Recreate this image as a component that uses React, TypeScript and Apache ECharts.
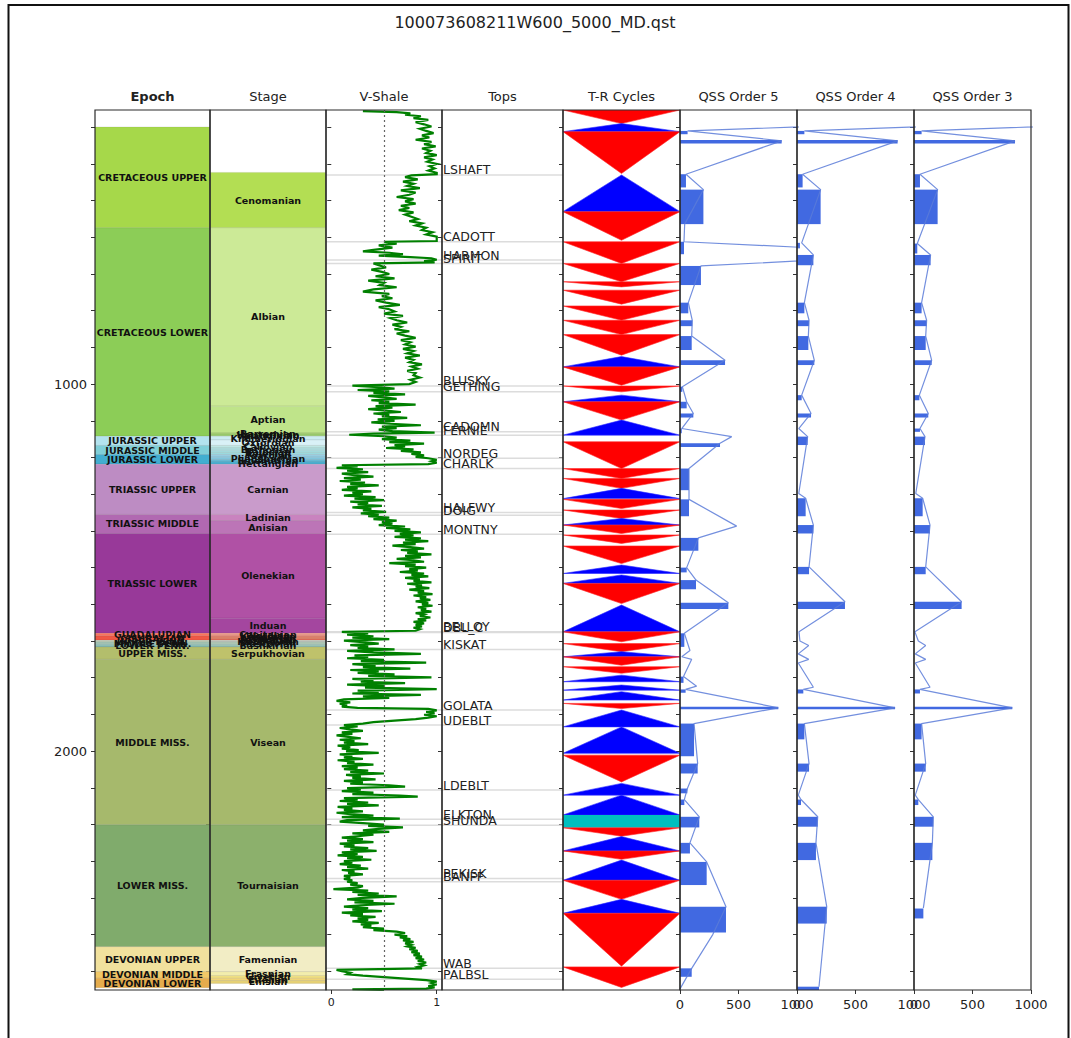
import { useEffect, useRef } from 'react';
import * as echarts from 'echarts';

// ---------------- DATA ----------------
const TITLE = '100073608211W600_5000_MD.qst';
const DEPTH_MIN = 253;
const DEPTH_MAX = 2651;
const DEPTH_LABELS = [1000, 2000];
const DEPTH_TICKS = [300, 400, 500, 600, 700, 800, 900, 1000, 1100, 1200, 1300, 1400, 1500, 1600, 1700, 1800, 1900, 2000, 2100, 2200, 2300, 2400, 2500, 2600];
const PANEL_TITLES = ['Epoch', 'Stage', 'V-Shale', 'Tops', 'T-R Cycles', 'QSS Order 5', 'QSS Order 4', 'QSS Order 3'];
const VSH_TICKS = [0, 1];
const QSS_TICKS = [0, 500, 1000];

const epochNames = ['CRETACEOUS UPPER', 'CRETACEOUS LOWER', 'JURASSIC UPPER', 'JURASSIC MIDDLE', 'JURASSIC LOWER', 'TRIASSIC UPPER', 'TRIASSIC MIDDLE', 'TRIASSIC LOWER', 'GUADALUPIAN', 'CISURALIAN', 'UPPER PENN.', 'MIDDLE PENN.', 'LOWER PENN.', 'UPPER MISS.', 'MIDDLE MISS.', 'LOWER MISS.', 'DEVONIAN UPPER', 'DEVONIAN MIDDLE', 'DEVONIAN LOWER'];
const epochTops = [299, 574, 1142, 1167, 1192, 1218, 1355, 1407, 1679, 1686, 1698, 1703, 1709, 1716, 1750, 2201, 2533, 2601, 2619];
const epochBases = [574, 1142, 1167, 1192, 1218, 1355, 1407, 1679, 1686, 1698, 1703, 1709, 1716, 1750, 2201, 2533, 2601, 2619, 2645];
const epochColors = ['#A6D84A', '#8CCD57', '#B3E3EE', '#80CFD8', '#42AED0', '#BD8CC3', '#B168B1', '#983999', '#FB745C', '#EF5845', '#BFD0BA', '#A6C7B7', '#8CBEB4', '#B3BE6C', '#A6B96C', '#80AB6C', '#F1E19D', '#F1C868', '#E5AC4D'];

const stageNames = ['Cenomanian', 'Albian', 'Aptian', 'Barremian', 'Hauterivian', 'Valanginian', 'Kimmeridgian', 'Oxfordian', 'Callovian', 'Bathonian', 'Bajocian', 'Aalenian', 'Toarcian', 'Pliensbachian', 'Sinemurian', 'Hettangian', 'Carnian', 'Ladinian', 'Anisian', 'Olenekian', 'Induan', 'Capitanian', 'Wordian', 'Kungurian', 'Artinskian', 'Sakmarian', 'Gzhelian', 'Kasimovian', 'Moscovian', 'Bashkirian', 'Serpukhovian', 'Visean', 'Tournaisian', 'Famennian', 'Frasnian', 'Givetian', 'Eifelian', 'Emsian'];
const stageTops = [423, 574, 1060, 1133, 1136, 1139, 1142, 1152, 1167, 1174, 1180, 1186, 1192, 1199, 1206, 1212, 1218, 1355, 1372, 1407, 1638, 1679, 1683, 1686, 1690, 1694, 1698, 1701, 1703, 1709, 1716, 1750, 2201, 2533, 2601, 2612, 2619, 2625];
const stageBases = [574, 1060, 1133, 1136, 1139, 1142, 1152, 1167, 1174, 1180, 1186, 1192, 1199, 1206, 1212, 1218, 1355, 1372, 1407, 1638, 1679, 1683, 1686, 1690, 1694, 1698, 1701, 1703, 1709, 1716, 1750, 2201, 2533, 2601, 2612, 2619, 2625, 2633];
const stageColors = ['#B3DE53', '#CCEA97', '#BFE48A', '#B3DF7F', '#A6D975', '#99D36A', '#CCECF4', '#D9F1F7', '#BFE7E5', '#B3E2E3', '#A6DDE0', '#9AD9DD', '#99CEE3', '#80C5DD', '#67BCD8', '#4EB3D3', '#C99BCB', '#C983BF', '#BC75B7', '#B051A5', '#A4469F', '#FB9A85', '#FB8D76', '#E38776', '#E6704E', '#E56F5C', '#CCD4C7', '#BFD0C5', '#B3CBB9', '#99C2B5', '#BFC26B', '#A6B96C', '#8CB06C', '#F2EDC5', '#F2EDAD', '#F1E185', '#F1D576', '#E5D075'];

const topNames = ['LSHAFT', 'CADOTT', 'HARMON', 'SPIRIT', 'BLUSKY', 'GETHING', 'CADOMN', 'FERNIE', 'NORDEG', 'CHARLK', 'HALFWY', 'DOIG', 'MONTNY', 'BELLOY', 'DBL_C', 'KISKAT', 'GOLATA', 'UDEBLT', 'LDEBLT', 'ELKTON', 'SHUNDA', 'PEKISK', 'BANFF', 'WAB', 'PALBSL'];
const topDepths = [430, 612, 662, 671, 1005, 1021, 1130, 1139, 1202, 1230, 1350, 1357, 1409, 1675, 1677, 1723, 1888, 1929, 2106, 2186, 2202, 2347, 2356, 2592, 2622];

// T-R cycles: 'T' = transgressive (blue), 'R' = regressive (red), 'C' = cyan marker
const trTops = [253, 290, 312, 430, 530, 612, 671, 721, 744, 787, 826, 865, 925, 953, 1005, 1030, 1048, 1098, 1157, 1230, 1257, 1284, 1314, 1343, 1366, 1384, 1411, 1441, 1493, 1520, 1543, 1602, 1675, 1707, 1729, 1743, 1770, 1793, 1820, 1838, 1870, 1888, 1934, 2011, 2088, 2120, 2174, 2209, 2233, 2272, 2297, 2352, 2404, 2442, 2588];
const trBases = [290, 312, 426, 530, 608, 671, 721, 735, 782, 826, 865, 921, 953, 1003, 1021, 1048, 1098, 1139, 1230, 1257, 1284, 1312, 1339, 1366, 1384, 1407, 1434, 1489, 1516, 1543, 1598, 1675, 1702, 1729, 1743, 1766, 1788, 1811, 1834, 1861, 1884, 1934, 2006, 2084, 2120, 2174, 2209, 2232, 2272, 2295, 2352, 2404, 2442, 2586, 2644];
const trKinds = ['R', 'T', 'R', 'T', 'R', 'R', 'R', 'R', 'R', 'R', 'R', 'R', 'T', 'R', 'R', 'T', 'R', 'T', 'R', 'R', 'R', 'T', 'R', 'R', 'T', 'R', 'R', 'R', 'T', 'T', 'R', 'T', 'R', 'R', 'T', 'R', 'R', 'T', 'T', 'T', 'R', 'T', 'T', 'R', 'T', 'T', 'C', 'R', 'T', 'R', 'T', 'R', 'T', 'R', 'R'];

// V-Shale log: [vshale, depth]
const vshale = [
  [0.30, 256], [0.62, 259], [0.75, 262], [0.70, 266], [0.85, 270], [0.78, 275], [0.92, 280], [0.80, 286], [0.88, 292], [0.95, 298],
  [0.84, 304], [0.90, 310], [0.97, 316], [0.86, 322], [0.93, 328], [0.80, 334], [0.95, 340], [0.88, 346], [0.99, 352], [0.86, 358],
  [0.94, 364], [0.90, 370], [1.0, 376], [0.88, 382], [0.96, 388], [0.91, 394], [1.0, 400], [0.93, 406], [0.98, 412], [0.92, 418],
  [1.0, 424], [1.0, 428], [0.76, 431], [0.70, 436], [0.82, 442], [0.68, 448], [0.78, 454], [0.72, 460], [0.84, 466], [0.66, 472],
  [0.80, 478], [0.74, 484], [0.62, 490], [0.78, 496], [0.70, 502], [0.80, 508], [0.66, 514], [0.74, 520], [0.64, 526], [0.78, 532],
  [0.70, 538], [0.76, 544], [0.82, 550], [0.74, 556], [0.86, 562], [0.80, 568], [0.90, 574], [0.86, 580], [0.96, 586], [0.90, 592],
  [1.0, 598], [1.0, 610], [0.50, 612], [0.62, 617], [0.45, 622], [0.58, 628], [0.40, 634], [0.30, 638], [0.55, 642], [0.68, 646],
  [0.45, 650], [0.75, 654], [0.95, 657], [1.0, 661], [0.88, 665], [0.98, 668], [0.40, 671], [0.45, 676], [0.52, 682], [0.38, 688],
  [0.48, 694], [0.55, 700], [0.42, 706], [0.60, 712], [0.35, 718], [0.50, 724], [0.46, 730], [0.62, 736], [0.40, 742], [0.30, 748],
  [0.55, 754], [0.48, 760], [0.58, 766], [0.42, 772], [0.52, 778], [0.65, 784], [0.45, 790], [0.55, 796], [0.60, 802], [0.50, 808],
  [0.68, 814], [0.56, 820], [0.62, 826], [0.72, 832], [0.58, 838], [0.66, 844], [0.60, 850], [0.74, 856], [0.62, 862], [0.70, 868],
  [0.80, 874], [0.66, 880], [0.75, 886], [0.70, 892], [0.80, 898], [0.68, 904], [0.78, 910], [0.72, 916], [0.84, 922], [0.70, 928],
  [0.78, 934], [0.74, 940], [0.86, 946], [0.76, 952], [0.82, 958], [0.72, 964], [0.80, 970], [0.78, 976], [0.84, 982], [0.75, 988],
  [0.80, 994], [0.74, 1000], [0.20, 1004], [0.45, 1008], [0.60, 1012], [0.25, 1016], [0.55, 1020], [0.40, 1024], [0.70, 1028], [0.35, 1032],
  [0.50, 1036], [0.62, 1040], [0.38, 1044], [0.55, 1048], [0.45, 1052], [0.80, 1056], [0.42, 1060], [0.58, 1064], [0.35, 1068], [0.52, 1072],
  [0.66, 1076], [0.40, 1080], [0.55, 1084], [0.48, 1088], [0.72, 1092], [0.44, 1096], [0.60, 1100], [0.38, 1104], [0.56, 1108], [0.85, 1112],
  [0.48, 1116], [0.62, 1120], [0.45, 1124], [0.58, 1128], [0.98, 1132], [0.40, 1135], [0.17, 1138], [0.50, 1142], [0.62, 1146], [0.48, 1150],
  [0.75, 1154], [0.55, 1158], [0.88, 1162], [0.60, 1166], [0.70, 1170], [0.52, 1174], [0.78, 1178], [0.66, 1182], [0.85, 1186], [0.76, 1190],
  [0.88, 1194], [0.80, 1198], [0.92, 1202], [1.0, 1206], [0.95, 1210], [1.0, 1214], [0.92, 1218], [0.10, 1221], [0.25, 1224], [0.05, 1228],
  [0.30, 1232], [0.15, 1236], [0.35, 1240], [0.10, 1244], [0.22, 1248], [0.40, 1252], [0.12, 1256], [0.28, 1260], [0.08, 1264], [0.32, 1268],
  [0.18, 1272], [0.45, 1276], [0.15, 1280], [0.25, 1284], [0.10, 1288], [0.38, 1292], [0.20, 1296], [0.30, 1300], [0.12, 1304], [0.42, 1308],
  [0.22, 1312], [0.50, 1316], [0.18, 1320], [0.35, 1324], [0.25, 1328], [0.48, 1332], [0.20, 1336], [0.38, 1340], [0.30, 1344], [0.52, 1348],
  [0.28, 1352], [0.45, 1356], [0.35, 1360], [0.55, 1364], [0.40, 1368], [0.62, 1372], [0.48, 1376], [0.58, 1380], [0.45, 1384], [0.70, 1388],
  [0.52, 1392], [0.75, 1396], [0.60, 1400], [0.85, 1404], [0.65, 1408], [0.78, 1412], [0.60, 1416], [0.85, 1420], [0.70, 1424], [0.92, 1428],
  [0.68, 1432], [0.80, 1436], [0.58, 1440], [0.75, 1444], [0.88, 1448], [0.66, 1452], [0.82, 1456], [0.72, 1460], [0.95, 1464], [0.70, 1468],
  [0.85, 1472], [0.62, 1476], [0.78, 1480], [0.88, 1484], [0.55, 1488], [0.80, 1492], [0.70, 1496], [0.90, 1500], [0.74, 1504], [0.82, 1508],
  [0.65, 1512], [0.88, 1516], [0.76, 1520], [0.92, 1524], [0.70, 1528], [0.84, 1532], [0.78, 1536], [0.95, 1540], [0.72, 1544], [0.86, 1548],
  [0.80, 1552], [0.93, 1556], [0.74, 1560], [0.88, 1564], [0.82, 1568], [0.96, 1572], [0.78, 1576], [0.90, 1580], [0.84, 1584], [0.94, 1588],
  [0.80, 1592], [0.92, 1596], [0.86, 1600], [0.96, 1604], [0.82, 1608], [0.90, 1612], [0.85, 1616], [0.95, 1620], [0.80, 1624], [0.88, 1628],
  [0.84, 1632], [0.94, 1636], [0.82, 1640], [0.90, 1644], [0.78, 1648], [0.88, 1652], [0.80, 1656], [0.86, 1660], [0.78, 1664], [0.84, 1668],
  [0.80, 1672], [0.10, 1675], [0.35, 1679], [0.15, 1683], [0.40, 1687], [0.20, 1691], [0.55, 1695], [0.12, 1699], [0.30, 1703], [0.45, 1707],
  [0.18, 1711], [0.35, 1715], [0.25, 1719], [0.60, 1723], [0.15, 1727], [0.40, 1731], [0.85, 1735], [0.22, 1739], [0.35, 1743], [0.15, 1747],
  [0.50, 1751], [0.28, 1755], [0.90, 1759], [0.20, 1763], [0.42, 1767], [0.30, 1771], [0.75, 1775], [0.18, 1779], [0.45, 1783], [0.25, 1787],
  [0.60, 1791], [0.35, 1795], [0.95, 1799], [0.20, 1803], [0.40, 1807], [0.28, 1811], [0.70, 1815], [0.15, 1819], [0.50, 1823], [0.32, 1827],
  [1.0, 1831], [0.25, 1835], [0.45, 1839], [0.20, 1843], [0.85, 1847], [0.30, 1851], [0.55, 1855], [0.12, 1859], [0.05, 1863], [0.18, 1867],
  [0.08, 1871], [0.15, 1875], [0.10, 1879], [0.25, 1882], [0.92, 1885], [1.0, 1889], [0.90, 1893], [0.98, 1897], [0.88, 1901], [1.0, 1905],
  [0.92, 1909], [0.80, 1913], [0.60, 1917], [0.40, 1921], [0.30, 1925], [0.12, 1929], [0.25, 1933], [0.08, 1937], [0.18, 1941], [0.30, 1945],
  [0.10, 1949], [0.20, 1953], [0.05, 1957], [0.16, 1961], [0.28, 1965], [0.08, 1969], [0.22, 1973], [0.12, 1977], [0.35, 1981], [0.06, 1985],
  [0.18, 1989], [0.10, 1993], [0.26, 1997], [0.14, 2001], [0.45, 2005], [0.08, 2009], [0.20, 2013], [0.12, 2017], [0.30, 2021], [0.06, 2025],
  [0.22, 2029], [0.15, 2033], [0.40, 2037], [0.10, 2041], [0.25, 2045], [0.12, 2049], [0.35, 2053], [0.18, 2057], [0.50, 2061], [0.14, 2065],
  [0.28, 2069], [0.20, 2073], [0.42, 2077], [0.12, 2081], [0.30, 2085], [0.18, 2089], [0.55, 2093], [0.70, 2097], [0.15, 2101], [0.28, 2105],
  [0.10, 2109], [0.40, 2113], [0.20, 2117], [0.65, 2121], [0.82, 2124], [0.12, 2128], [0.25, 2132], [0.08, 2136], [0.35, 2140], [0.15, 2144],
  [0.45, 2148], [0.06, 2152], [0.20, 2156], [0.12, 2160], [0.30, 2164], [0.05, 2168], [0.18, 2172], [0.40, 2176], [0.10, 2180], [0.65, 2184],
  [0.15, 2188], [0.08, 2192], [0.30, 2196], [0.50, 2200], [0.35, 2204], [0.68, 2208], [0.45, 2212], [0.30, 2216], [0.55, 2220], [0.20, 2224],
  [0.40, 2228], [0.25, 2232], [0.10, 2236], [0.30, 2240], [0.15, 2244], [0.40, 2248], [0.08, 2252], [0.22, 2256], [0.12, 2260], [0.35, 2264],
  [0.18, 2268], [0.43, 2272], [0.10, 2276], [0.25, 2280], [0.06, 2284], [0.30, 2288], [0.15, 2292], [0.38, 2296], [0.12, 2300], [0.20, 2304],
  [0.08, 2308], [0.28, 2312], [0.15, 2316], [0.35, 2320], [0.10, 2324], [0.22, 2328], [0.16, 2332], [0.30, 2336], [0.12, 2340], [0.18, 2344],
  [0.12, 2348], [0.20, 2352], [0.15, 2356], [0.25, 2360], [0.18, 2364], [0.30, 2368], [0.25, 2372], [0.02, 2376], [0.35, 2380], [0.20, 2384],
  [0.45, 2388], [0.25, 2392], [0.62, 2396], [0.30, 2400], [0.15, 2404], [0.40, 2408], [0.22, 2412], [0.60, 2416], [0.28, 2420], [0.12, 2424],
  [0.35, 2428], [0.20, 2432], [0.48, 2436], [0.10, 2440], [0.30, 2444], [0.18, 2448], [0.42, 2452], [0.25, 2456], [0.35, 2460], [0.20, 2464],
  [0.45, 2468], [0.28, 2472], [0.38, 2476], [0.30, 2480], [0.50, 2484], [0.40, 2488], [0.62, 2492], [0.70, 2496], [0.60, 2500], [0.72, 2504],
  [0.65, 2508], [0.75, 2512], [0.68, 2516], [0.78, 2520], [0.70, 2524], [0.76, 2528], [0.72, 2532], [0.80, 2536], [0.74, 2540], [0.82, 2544],
  [0.76, 2548], [0.84, 2552], [0.78, 2556], [0.86, 2560], [0.80, 2564], [0.88, 2568], [0.82, 2572], [0.90, 2576], [0.84, 2580], [0.88, 2584],
  [0.82, 2588], [0.86, 2592], [0.05, 2596], [0.10, 2600], [0.18, 2604], [0.15, 2608], [0.30, 2612], [0.50, 2616], [0.70, 2620], [0.90, 2624],
  [1.0, 2628], [0.95, 2632], [1.0, 2636], [0.92, 2640], [0.98, 2644], [0.90, 2647], [0.20, 2649], [0.50, 2651],
];

// QSS bars: [top depth, base depth, value]; QSS lines: [value, depth]
const qss5Bars = [[310, 319, 65], [335, 344, 869], [428, 464, 51], [470, 564, 200], [612, 646, 34], [678, 730, 179], [778, 807, 71], [826, 842, 105], [869, 907, 100], [935, 948, 385], [1007, 1021, 20], [1048, 1066, 57], [1080, 1091, 114], [1121, 1134, 15], [1161, 1171, 342], [1230, 1289, 77], [1314, 1360, 77], [1419, 1454, 157], [1500, 1513, 57], [1534, 1559, 137], [1596, 1613, 413], [1679, 1716, 37], [1797, 1814, 30], [1832, 1841, 48], [1879, 1886, 840], [1925, 2014, 120], [2034, 2061, 151], [2102, 2115, 63], [2132, 2147, 37], [2179, 2208, 165], [2250, 2279, 85], [2302, 2365, 228], [2424, 2494, 393], [2592, 2615, 100]];
const qss5Line = [[1800, 290], [65, 310], [869, 337], [51, 428], [200, 470], [40, 564], [34, 612], [2200, 645], [179, 678], [71, 778], [105, 826], [100, 869], [385, 935], [20, 1007], [57, 1048], [114, 1080], [15, 1121], [442, 1143], [342, 1161], [77, 1230], [77, 1314], [484, 1387], [157, 1419], [57, 1500], [137, 1534], [413, 1596], [37, 1679], [85, 1726], [15, 1743], [100, 1750], [30, 1797], [142, 1823], [48, 1832], [840, 1882], [120, 1925], [151, 2034], [63, 2102], [37, 2132], [165, 2179], [85, 2250], [228, 2302], [393, 2424], [280, 2500], [100, 2592], [0, 2648]];
const qss4Bars = [[310, 319, 63], [335, 344, 860], [428, 464, 48], [470, 564, 202], [615, 630, 25], [648, 676, 140], [778, 807, 63], [826, 842, 103], [869, 907, 97], [935, 948, 148], [1030, 1044, 40], [1080, 1091, 120], [1143, 1166, 91], [1311, 1360, 74], [1384, 1407, 140], [1498, 1518, 103], [1593, 1613, 410], [1832, 1843, 54], [1879, 1886, 838], [1925, 1968, 63], [2034, 2056, 103], [2132, 2147, 34], [2179, 2206, 177], [2250, 2297, 162], [2424, 2470, 254], [2642, 2653, 188]];
const qss4Line = [[1800, 290], [63, 310], [860, 337], [48, 428], [202, 470], [40, 615], [140, 648], [63, 778], [103, 826], [97, 869], [148, 935], [40, 1030], [120, 1080], [15, 1121], [91, 1143], [15, 1298], [74, 1311], [140, 1384], [103, 1498], [410, 1593], [17, 1675], [25, 1700], [100, 1712], [11, 1735], [100, 1750], [11, 1760], [140, 1826], [54, 1832], [838, 1882], [63, 1925], [103, 2034], [11, 2120], [34, 2132], [177, 2179], [162, 2250], [254, 2424], [188, 2642]];
const qss3Bars = [[310, 319, 65], [335, 344, 863], [428, 464, 51], [470, 564, 202], [617, 644, 28], [648, 676, 142], [778, 807, 65], [826, 842, 108], [869, 907, 100], [935, 948, 151], [1030, 1044, 46], [1080, 1091, 122], [1121, 1130, 51], [1143, 1166, 94], [1311, 1360, 74], [1384, 1407, 137], [1498, 1518, 100], [1593, 1613, 407], [1832, 1843, 51], [1879, 1886, 840], [1925, 1968, 65], [2034, 2056, 100], [2132, 2147, 37], [2179, 2206, 165], [2250, 2297, 157], [2429, 2456, 80]];
const qss3Line = [[1800, 290], [65, 310], [863, 337], [51, 428], [202, 470], [28, 617], [142, 648], [65, 778], [108, 826], [100, 869], [151, 935], [46, 1030], [122, 1080], [51, 1121], [94, 1143], [15, 1298], [74, 1311], [137, 1384], [100, 1498], [407, 1593], [8, 1675], [37, 1700], [100, 1712], [11, 1735], [100, 1750], [11, 1760], [137, 1826], [51, 1832], [840, 1882], [65, 1925], [100, 2034], [11, 2120], [37, 2132], [165, 2179], [157, 2250], [80, 2428]];

// ---------------- LAYOUT / STYLE ----------------
const FONT = '"DejaVu Sans", "Liberation Sans", sans-serif';
const PANEL_TOP = 110;
const PANEL_H = 880;
const PANEL_LEFTS = [95, 210, 326, 442, 563, 680, 797, 914];
const PANEL_WIDTHS = [115, 116, 116, 121, 117, 117, 117, 117];
const plainNumber = (v: number) => String(v);

function zoneSeries(gridIdx: number, names: string[], tops: number[], bases: number[], colors: string[]) {
  return {
    type: 'custom',
    xAxisIndex: gridIdx,
    yAxisIndex: gridIdx,
    clip: true,
    encode: { y: [0, 1] },
    data: names.map((_, i) => [tops[i], bases[i], i]),
    renderItem: (params: any, api: any) => {
      const i = api.value(2);
      const cs = params.coordSys;
      const y1 = api.coord([0, api.value(0)])[1];
      const y2 = api.coord([0, api.value(1)])[1];
      return {
        type: 'group',
        children: [
          { type: 'rect', shape: { x: cs.x, y: y1, width: cs.width, height: y2 - y1 }, style: { fill: colors[i], stroke: 'rgba(0,0,0,0.12)', lineWidth: 0.6 } },
          { type: 'text', z2: 20, style: { text: names[i], x: cs.x + cs.width / 2, y: (y1 + y2) / 2, align: 'center', verticalAlign: 'middle', font: `bold 9.5px ${FONT}`, fill: '#111' } },
        ],
      };
    },
  };
}

function qssSeries(gridIdx: number, bars: number[][], line: number[][]) {
  return [
    {
      type: 'custom',
      xAxisIndex: gridIdx,
      yAxisIndex: gridIdx,
      clip: true,
      encode: { x: 2, y: [0, 1] },
      data: bars,
      renderItem: (params: any, api: any) => {
        const p1 = api.coord([0, api.value(0)]);
        const p2 = api.coord([api.value(2), api.value(1)]);
        return { type: 'rect', shape: { x: p1[0], y: p1[1], width: p2[0] - p1[0], height: p2[1] - p1[1] }, style: { fill: '#4169E1' } };
      },
    },
    {
      type: 'line',
      xAxisIndex: gridIdx,
      yAxisIndex: gridIdx,
      data: line,
      showSymbol: false,
      clip: true,
      lineStyle: { color: '#5b7bd8', width: 1.2, opacity: 0.85 },
      z: 3,
    },
  ];
}

function buildOption() {
  const grids = PANEL_LEFTS.map((l, i) => ({ left: l, top: PANEL_TOP, width: PANEL_WIDTHS[i], height: PANEL_H }));

  const yAxes = PANEL_LEFTS.map((_, i) => ({
    type: 'value',
    gridIndex: i,
    inverse: true,
    min: DEPTH_MIN,
    max: DEPTH_MAX,
    axisLine: { show: false },
    splitLine: { show: false },
    axisTick: { show: true, customValues: DEPTH_TICKS, length: 4, lineStyle: { color: '#333' } },
    axisLabel: { show: i === 0, customValues: DEPTH_LABELS, formatter: plainNumber, fontSize: 13, color: '#222', fontFamily: FONT, margin: 8 },
  }));

  const xAxes = PANEL_LEFTS.map((_, i) => {
    if (i === 2) {
      return {
        type: 'value', gridIndex: i, min: -0.05, max: 1.05,
        axisLine: { show: false }, splitLine: { show: false },
        axisTick: { show: true, customValues: VSH_TICKS, length: 4, lineStyle: { color: '#333' } },
        axisLabel: { customValues: VSH_TICKS, formatter: plainNumber, fontSize: 11, color: '#222', fontFamily: FONT, margin: 7 },
      };
    }
    if (i >= 5) {
      return {
        type: 'value', gridIndex: i, min: 0, max: 1000,
        axisLine: { show: false }, splitLine: { show: false },
        axisTick: { show: true, customValues: QSS_TICKS, length: 4, lineStyle: { color: '#333' } },
        axisLabel: { customValues: QSS_TICKS, formatter: plainNumber, fontSize: 13, color: '#222', fontFamily: FONT, margin: 8 },
      };
    }
    return { type: 'value', gridIndex: i, min: 0, max: 1, show: false };
  });

  const series: any[] = [];
  series.push(zoneSeries(0, epochNames, epochTops, epochBases, epochColors));
  series.push(zoneSeries(1, stageNames, stageTops, stageBases, stageColors));

  // tops correlation lines across the V-Shale panel
  series.push({
    type: 'custom', xAxisIndex: 2, yAxisIndex: 2, clip: true, encode: { y: 0 },
    data: topDepths.map((d) => [d]),
    renderItem: (params: any, api: any) => {
      const cs = params.coordSys;
      const y = api.coord([0, api.value(0)])[1];
      return { type: 'line', shape: { x1: cs.x, y1: y, x2: cs.x + cs.width, y2: y }, style: { stroke: '#dcdcdc', lineWidth: 1.5 } };
    },
  });
  series.push({
    type: 'line', xAxisIndex: 2, yAxisIndex: 2, data: vshale, showSymbol: false, clip: true,
    lineStyle: { color: '#008000', width: 2.2, join: 'miter' },
    markLine: { silent: true, symbol: 'none', label: { show: false }, lineStyle: { type: [2, 3], color: '#666', width: 1.2 }, data: [{ xAxis: 0.5 }] },
  });

  // Tops panel
  series.push({
    type: 'custom', xAxisIndex: 3, yAxisIndex: 3, clip: false, encode: { y: 0 },
    data: topDepths.map((d, i) => [d, i]),
    renderItem: (params: any, api: any) => {
      const cs = params.coordSys;
      const i = api.value(1);
      const y = api.coord([0, api.value(0)])[1];
      return {
        type: 'group',
        children: [
          { type: 'line', shape: { x1: cs.x, y1: y, x2: cs.x + cs.width, y2: y }, style: { stroke: '#dcdcdc', lineWidth: 1.5 } },
          { type: 'text', z2: 10, style: { text: topNames[i], x: cs.x + 1, y: y + 1.5, align: 'left', verticalAlign: 'bottom', font: `12.5px ${FONT}`, fill: '#222' } },
        ],
      };
    },
  });

  // T-R cycles
  series.push({
    type: 'custom', xAxisIndex: 4, yAxisIndex: 4, clip: true, encode: { y: [0, 1] },
    data: trTops.map((t, i) => [t, trBases[i], i]),
    renderItem: (params: any, api: any) => {
      const cs = params.coordSys;
      const i = api.value(2);
      const yt = api.coord([0, api.value(0)])[1];
      const yb = api.coord([0, api.value(1)])[1];
      const xl = cs.x, xr = cs.x + cs.width, xc = cs.x + cs.width / 2;
      const k = trKinds[i];
      if (k === 'C') {
        return { type: 'rect', shape: { x: xl, y: yt, width: xr - xl, height: yb - yt }, style: { fill: '#00BFBF' } };
      }
      if (k === 'T') {
        return { type: 'polygon', shape: { points: [[xc, yt], [xl, yb], [xr, yb]] }, style: { fill: '#0000FF', stroke: '#2a2aff', lineWidth: 0.6 } };
      }
      return { type: 'polygon', shape: { points: [[xl, yt], [xr, yt], [xc, yb]] }, style: { fill: '#FF0000', stroke: '#ff2a2a', lineWidth: 0.6 } };
    },
  });

  series.push(...qssSeries(5, qss5Bars, qss5Line));
  series.push(...qssSeries(6, qss4Bars, qss4Line));
  series.push(...qssSeries(7, qss3Bars, qss3Line));

  const graphics: any[] = [
    { type: 'rect', silent: true, z: 100, shape: { x: 8.5, y: 5, width: 1060, height: 1045 }, style: { fill: 'none', stroke: '#111', lineWidth: 2 } },
    { type: 'text', silent: true, z: 100, style: { text: TITLE, x: 535, y: 22, align: 'center', verticalAlign: 'middle', font: `16px ${FONT}`, fill: '#222' } },
  ];
  PANEL_LEFTS.forEach((l, i) => {
    graphics.push({ type: 'rect', silent: true, z: 100, shape: { x: l, y: PANEL_TOP, width: PANEL_WIDTHS[i], height: PANEL_H }, style: { fill: 'none', stroke: '#2a2a2a', lineWidth: 1.2 } });
    graphics.push({ type: 'text', silent: true, z: 100, style: { text: PANEL_TITLES[i], x: l + PANEL_WIDTHS[i] / 2, y: 96, align: 'center', verticalAlign: 'middle', font: `${i === 0 ? 'bold ' : ''}13px ${FONT}`, fill: '#222' } });
  });

  return {
    animation: false,
    backgroundColor: '#ffffff',
    textStyle: { fontFamily: FONT },
    grid: grids,
    xAxis: xAxes,
    yAxis: yAxes,
    series,
    graphic: graphics,
  };
}

export default function App() {
  const ref = useRef<HTMLDivElement>(null);
  useEffect(() => {
    if (!ref.current) return;
    const chart = echarts.init(ref.current, null, { renderer: 'svg' });
    chart.setOption(buildOption() as any);
    return () => chart.dispose();
  }, []);
  return <div ref={ref} style={{ position: 'absolute', left: 0, top: 0, width: 1071, height: 1038, background: '#fff' }} />;
}
